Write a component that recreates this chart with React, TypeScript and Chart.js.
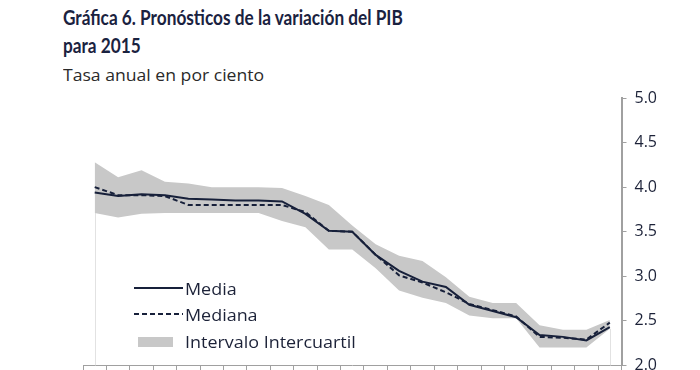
import React, { useEffect, useRef } from "react";
import { Chart, registerables } from "chart.js";

Chart.register(...registerables);

const categories = [
  "Ene-14", "Feb-14", "Mar-14", "Abr-14", "May-14", "Jun-14", "Jul-14", "Ago-14",
  "Sep-14", "Oct-14", "Nov-14", "Dic-14", "Ene-15", "Feb-15", "Mar-15", "Abr-15",
  "May-15", "Jun-15", "Jul-15", "Ago-15", "Sep-15", "Oct-15", "Nov-15",
];
const media = [
  3.94, 3.90, 3.92, 3.91, 3.87, 3.86, 3.85, 3.85, 3.84, 3.70, 3.51, 3.50,
  3.24, 3.06, 2.94, 2.88, 2.68, 2.61, 2.54, 2.34, 2.32, 2.28, 2.43,
];
const mediana = [
  4.00, 3.91, 3.91, 3.90, 3.80, 3.80, 3.80, 3.80, 3.80, 3.72, 3.51, 3.50,
  3.24, 3.01, 2.93, 2.82, 2.69, 2.62, 2.55, 2.32, 2.31, 2.29, 2.48,
];
const cuartilSuperior = [
  4.28, 4.11, 4.19, 4.06, 4.04, 4.00, 4.00, 4.00, 3.99, 3.90, 3.80, 3.57,
  3.36, 3.23, 3.17, 2.99, 2.77, 2.70, 2.70, 2.45, 2.40, 2.40, 2.51,
];
const cuartilInferior = [
  3.71, 3.66, 3.70, 3.71, 3.71, 3.71, 3.71, 3.71, 3.62, 3.55, 3.30, 3.30,
  3.09, 2.84, 2.76, 2.70, 2.56, 2.53, 2.53, 2.20, 2.20, 2.20, 2.41,
];
const yMin = 2.0;
const yMax = 5.0;
const yStep = 0.5;

const legendLabels = ["Media", "Mediana", "Intervalo Intercuartil"];

const LINE = "#17203a";
const BAND = "#c8c8c8";
const AXIS = "#a0a0a0";
const TEXT = "#1c2238";

const legendPlugin = {
  id: "insideLegend",
  afterDraw(chart: any) {
    const ctx = chart.ctx;
    ctx.save();
    // Media
    ctx.strokeStyle = LINE;
    ctx.lineWidth = 2;
    ctx.setLineDash([]);
    ctx.beginPath();
    ctx.moveTo(134, 288);
    ctx.lineTo(183, 288);
    ctx.stroke();
    // Mediana
    ctx.setLineDash([5, 3]);
    ctx.beginPath();
    ctx.moveTo(134, 314);
    ctx.lineTo(183, 314);
    ctx.stroke();
    ctx.setLineDash([]);
    // Band
    ctx.fillStyle = BAND;
    ctx.fillRect(138, 337, 35, 10);
    // Texts
    ctx.font = '16px "Open Sans"';
    ctx.fillStyle = TEXT;
    ctx.textBaseline = "alphabetic";
    const baselines = [295, 321, 348];
    legendLabels.forEach((t, i) => {
      ctx.save();
      ctx.translate(185, baselines[i]);
      ctx.scale(1.12, 1);
      ctx.fillText(t, 0, 0);
      ctx.restore();
    });
    ctx.restore();
  },
};

const edgePlugin = {
  id: "edgeLines",
  beforeDatasetsDraw(chart: any) {
    const ctx = chart.ctx;
    const meta = chart.getDatasetMeta(3);
    const pts = meta.data;
    if (!pts || !pts.length) return;
    const bottom = chart.chartArea.bottom;
    ctx.save();
    ctx.strokeStyle = "#e2e2e2";
    ctx.lineWidth = 1;
    [pts[0], pts[pts.length - 1]].forEach((p: any) => {
      ctx.beginPath();
      ctx.moveTo(Math.round(p.x) + 0.5, p.y);
      ctx.lineTo(Math.round(p.x) + 0.5, bottom);
      ctx.stroke();
    });
    ctx.restore();
  },
};

export default function App() {
  const ref = useRef<HTMLCanvasElement | null>(null);

  useEffect(() => {
    document.body.style.margin = "0";
    if (!ref.current) return;
    const chart = new Chart(ref.current, {
      type: "line",
      data: {
        labels: categories,
        datasets: [
          {
            label: "Media",
            data: media,
            borderColor: LINE,
            borderWidth: 2,
            pointRadius: 0,
            fill: false,
            tension: 0,
            order: 0,
          },
          {
            label: "Mediana",
            data: mediana,
            borderColor: LINE,
            borderWidth: 2,
            borderDash: [5, 3],
            pointRadius: 0,
            fill: false,
            tension: 0,
            order: 1,
          },
          {
            label: "Cuartil superior",
            data: cuartilSuperior,
            borderWidth: 0,
            borderColor: "rgba(0,0,0,0)",
            backgroundColor: BAND,
            pointRadius: 0,
            fill: "+1",
            tension: 0,
            order: 2,
          },
          {
            label: "Cuartil inferior",
            data: cuartilInferior,
            borderWidth: 0,
            borderColor: "rgba(0,0,0,0)",
            pointRadius: 0,
            fill: false,
            tension: 0,
            order: 3,
          },
        ],
      },
      options: {
        animation: false,
        responsive: false,
        maintainAspectRatio: false,
        layout: { padding: { left: 83, right: 35, top: 98, bottom: 0 } },
        plugins: {
          legend: { display: false },
          tooltip: { enabled: false },
          title: { display: false },
        },
        scales: {
          x: {
            type: "category",
            offset: true,
            grid: {
              offset: true,
              drawOnChartArea: false,
              drawTicks: true,
              tickLength: 8,
              color: AXIS,
            },
            border: { color: AXIS, width: 1 },
            ticks: { display: false },
          },
          y: {
            position: "right",
            min: yMin,
            max: yMax,
            ticks: {
              stepSize: yStep,
              padding: 8,
              color: TEXT,
              font: { family: "Open Sans", size: 16 },
              callback: (v: any) => Number(v).toFixed(1),
            },
            grid: {
              drawOnChartArea: false,
              drawTicks: true,
              tickLength: 5,
              color: AXIS,
            },
            border: { color: AXIS, width: 2 },
          },
        },
      },
      plugins: [legendPlugin, edgePlugin],
    });
    return () => chart.destroy();
  }, []);

  return (
    <div
      style={{
        position: "absolute",
        left: 0,
        top: 0,
        width: 700,
        height: 370,
        overflow: "hidden",
        background: "#fff",
      }}
    >
      <div
        style={{
          position: "absolute",
          left: 63,
          top: 3,
          fontFamily: "Lato, 'Open Sans', sans-serif",
          fontWeight: 700,
          fontSize: 21,
          lineHeight: "28px",
          color: "#1a2240",
          whiteSpace: "nowrap",
          transform: "scaleX(0.82)",
          transformOrigin: "left top",
        }}
      >
        <div>Gráfica 6. Pronósticos de la variación del PIB</div>
        <div>para 2015</div>
      </div>
      <div
        style={{
          position: "absolute",
          left: 63,
          top: 65,
          fontFamily: "'Open Sans', sans-serif",
          fontSize: 16,
          lineHeight: "20px",
          color: "#2a2a2a",
          whiteSpace: "nowrap",
          transform: "scaleX(1.1)",
          transformOrigin: "left top",
        }}
      >
        Tasa anual en por ciento
      </div>
      <canvas
        ref={ref}
        width={700}
        height={383}
        style={{ position: "absolute", left: 0, top: 0, width: 700, height: 383 }}
      />
    </div>
  );
}
